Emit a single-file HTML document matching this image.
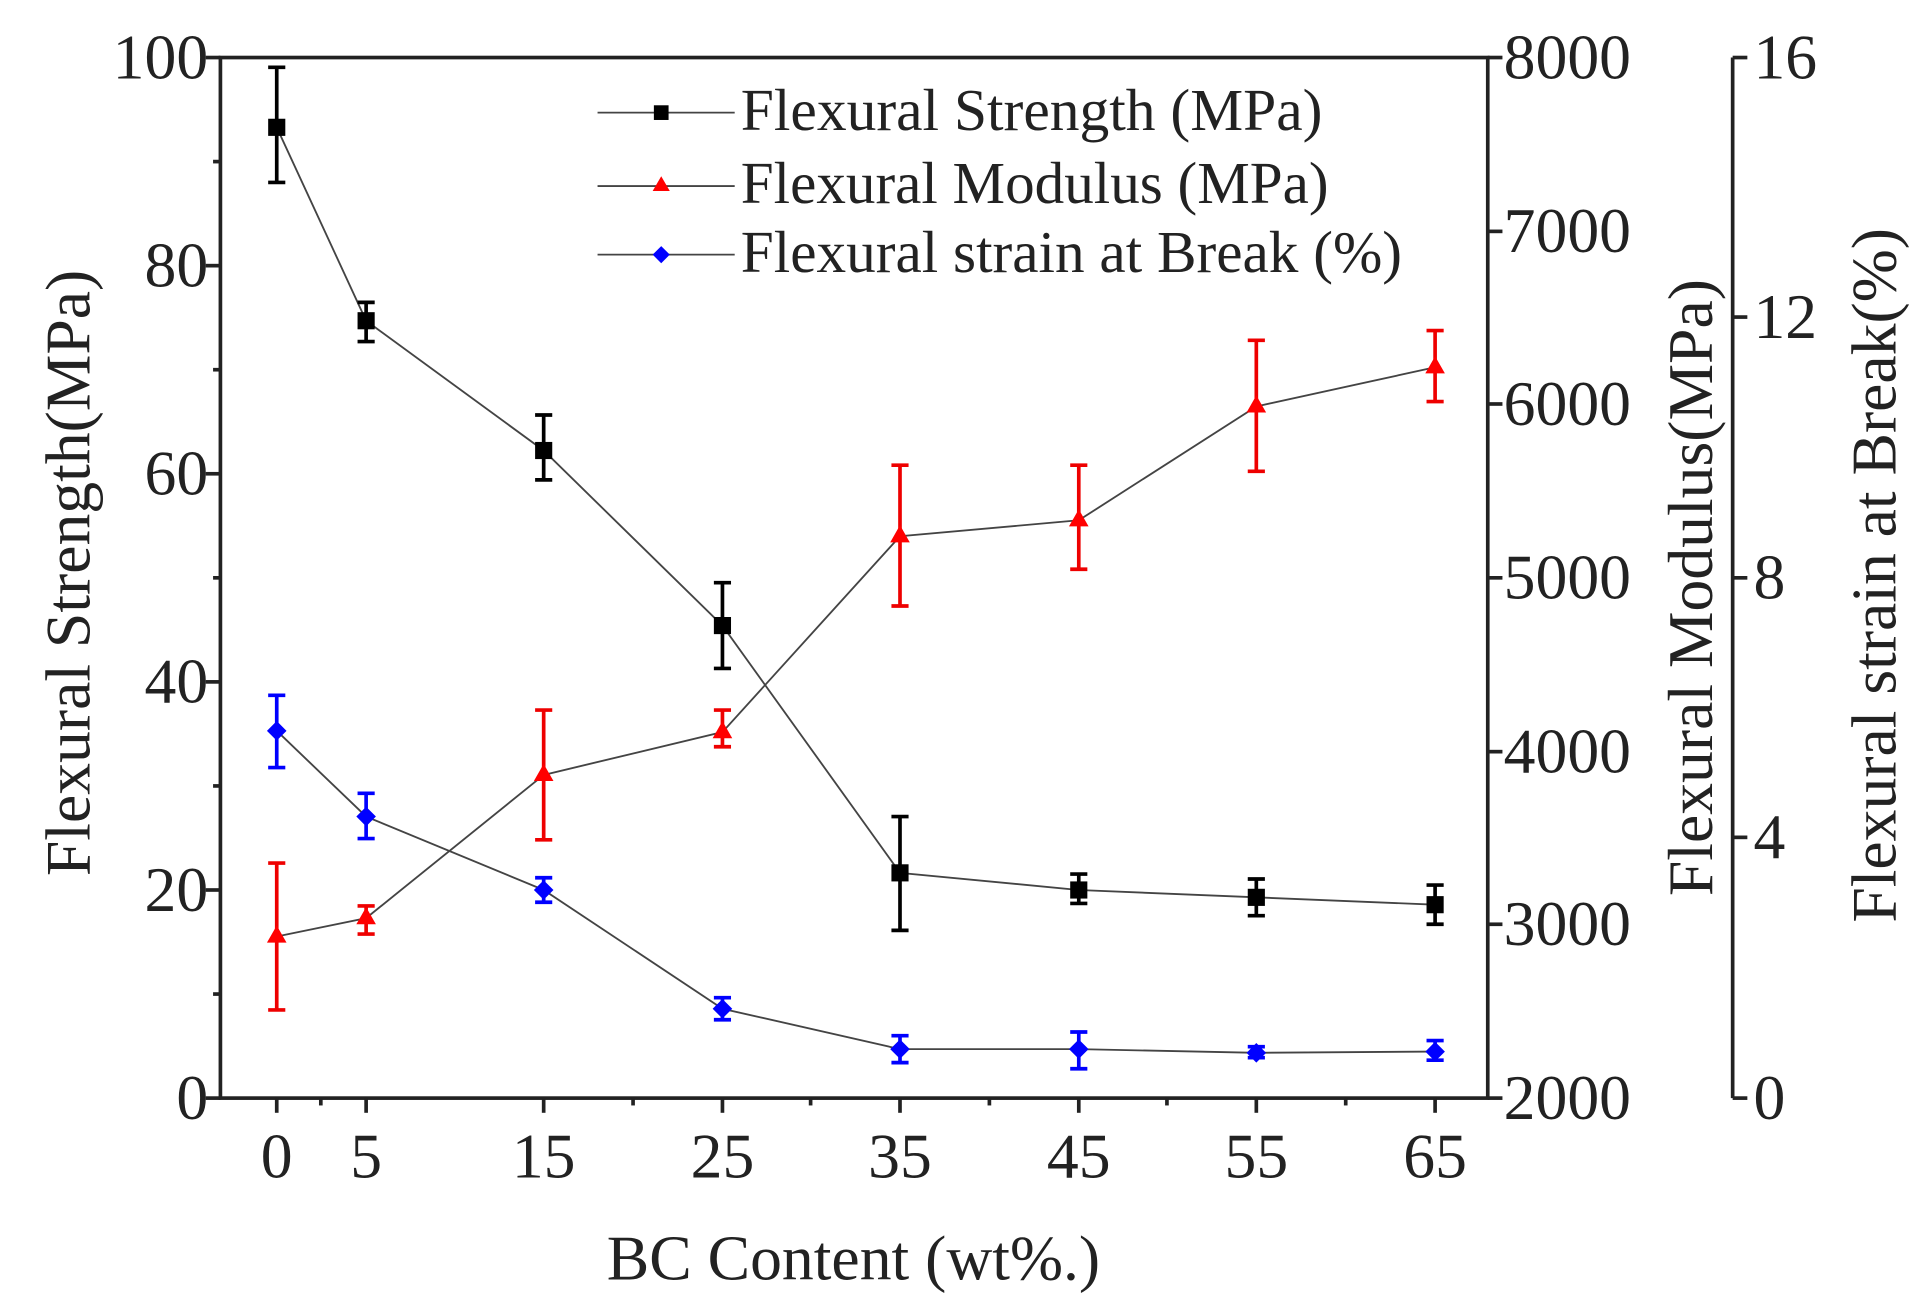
<!DOCTYPE html>
<html><head><meta charset="utf-8"><style>html,body{margin:0;padding:0;background:#fff;}svg{display:block}</style></head>
<body>
<svg width="1920" height="1305" viewBox="0 0 1568 1066" preserveAspectRatio="none" xmlns="http://www.w3.org/2000/svg" font-family="Liberation Serif, serif" font-size="52" fill="#222">
<g stroke="#222" stroke-width="3" fill="none">
<rect x="180" y="47" width="1035" height="850"/>
<line x1="1415" y1="47" x2="1415" y2="897"/>
</g>
<g stroke="#222" stroke-width="3">
<line x1="168" y1="897" x2="180" y2="897"/><line x1="168" y1="727" x2="180" y2="727"/><line x1="168" y1="557" x2="180" y2="557"/><line x1="168" y1="387" x2="180" y2="387"/><line x1="168" y1="217" x2="180" y2="217"/><line x1="168" y1="47" x2="180" y2="47"/>
<line x1="174" y1="812" x2="180" y2="812"/><line x1="174" y1="642" x2="180" y2="642"/><line x1="174" y1="472" x2="180" y2="472"/><line x1="174" y1="302" x2="180" y2="302"/><line x1="174" y1="132" x2="180" y2="132"/>
<line x1="1215" y1="47" x2="1227" y2="47"/><line x1="1215" y1="189" x2="1227" y2="189"/><line x1="1215" y1="330" x2="1227" y2="330"/><line x1="1215" y1="472" x2="1227" y2="472"/><line x1="1215" y1="614" x2="1227" y2="614"/><line x1="1215" y1="755" x2="1227" y2="755"/><line x1="1215" y1="897" x2="1227" y2="897"/>
<line x1="1415" y1="47" x2="1427" y2="47"/><line x1="1415" y1="259" x2="1427" y2="259"/><line x1="1415" y1="472" x2="1427" y2="472"/><line x1="1415" y1="684" x2="1427" y2="684"/><line x1="1415" y1="897" x2="1427" y2="897"/>
<line x1="226" y1="897" x2="226" y2="909"/><line x1="299" y1="897" x2="299" y2="909"/><line x1="444" y1="897" x2="444" y2="909"/><line x1="590" y1="897" x2="590" y2="909"/><line x1="735" y1="897" x2="735" y2="909"/><line x1="881" y1="897" x2="881" y2="909"/><line x1="1026" y1="897" x2="1026" y2="909"/><line x1="1172" y1="897" x2="1172" y2="909"/>
<line x1="262" y1="897" x2="262" y2="903"/><line x1="517" y1="897" x2="517" y2="903"/><line x1="662" y1="897" x2="662" y2="903"/><line x1="808" y1="897" x2="808" y2="903"/><line x1="953" y1="897" x2="953" y2="903"/><line x1="1099" y1="897" x2="1099" y2="903"/>
</g>
<g text-anchor="end">
<text x="170" y="914">0</text><text x="170" y="744">20</text><text x="170" y="574">40</text><text x="170" y="404">60</text><text x="170" y="234">80</text><text x="170" y="64">100</text>
</g>
<g>
<text x="1228" y="64">8000</text><text x="1228" y="206">7000</text><text x="1228" y="347">6000</text><text x="1228" y="489">5000</text><text x="1228" y="631">4000</text><text x="1228" y="772">3000</text><text x="1228" y="914">2000</text>
<text x="1432" y="64">16</text><text x="1432" y="276">12</text><text x="1432" y="489">8</text><text x="1432" y="701">4</text><text x="1432" y="914">0</text>
</g>
<g text-anchor="middle">
<text x="226" y="962">0</text><text x="299" y="962">5</text><text x="444" y="962">15</text><text x="590" y="962">25</text><text x="735" y="962">35</text><text x="881" y="962">45</text><text x="1026" y="962">55</text><text x="1172" y="962">65</text>
<text x="697" y="1045">BC Content (wt%.)</text>
<text transform="translate(73,468) rotate(-90)">Flexural Strength(MPa)</text>
<text transform="translate(1398,480) rotate(-90)">Flexural Modulus(MPa)</text>
<text transform="translate(1548,470) rotate(-90)">Flexural strain at Break(%)</text>
</g>
<g fill="none" stroke="#444" stroke-width="1.5">
<polyline points="226,104 299,262 444,368 590,511 735,713 881,727 1026,733 1172,739"/>
<polyline points="226,765 299,750 444,633 590,598 735,438 881,425 1026,332 1172,300"/>
<polyline points="226,597 299,667 444,727 590,824 735,857 881,857 1026,860 1172,859"/>
<line x1="488" y1="92" x2="600" y2="92"/><line x1="488" y1="152" x2="600" y2="152"/><line x1="488" y1="208" x2="600" y2="208"/>
</g>
<g stroke="#000" stroke-width="3">
<path d="M226 55V149M219 55h14M219 149h14 M299 247V279M292 247h14M292 279h14 M444 339V392M437 339h14M437 392h14 M590 476V546M583 476h14M583 546h14 M735 667V760M728 667h14M728 760h14 M881 714V738M874 714h14M874 738h14 M1026 718V748M1019 718h14M1019 748h14 M1172 723V755M1165 723h14M1165 755h14"/>
</g>
<g stroke="#e00" stroke-width="3">
<path d="M226 705V825M219 705h14M219 825h14 M299 740V763M292 740h14M292 763h14 M444 580V686M437 580h14M437 686h14 M590 580V610M583 580h14M583 610h14 M735 380V495M728 380h14M728 495h14 M881 380V465M874 380h14M874 465h14 M1026 278V385M1019 278h14M1019 385h14 M1172 270V328M1165 270h14M1165 328h14"/>
</g>
<g stroke="#00f" stroke-width="3">
<path d="M226 568V627M219 568h14M219 627h14 M299 648V685M292 648h14M292 685h14 M444 717V737M437 717h14M437 737h14 M590 815V833M583 815h14M583 833h14 M735 846V868M728 846h14M728 868h14 M881 843V873M874 843h14M874 873h14 M1026 855V864M1019 855h14M1019 864h14 M1172 850V866M1165 850h14M1165 866h14"/>
</g>
<g fill="#000">
<rect x="219" y="97" width="14" height="14"/><rect x="292" y="255" width="14" height="14"/><rect x="437" y="361" width="14" height="14"/><rect x="583" y="504" width="14" height="14"/><rect x="728" y="706" width="14" height="14"/><rect x="874" y="720" width="14" height="14"/><rect x="1019" y="726" width="14" height="14"/><rect x="1165" y="732" width="14" height="14"/>
<rect x="534" y="86" width="12" height="12"/>
</g>
<g fill="#f00">
<path d="M226 756l8 14h-16z M299 741l8 14h-16z M444 624l8 14h-16z M590 589l8 14h-16z M735 429l8 14h-16z M881 416l8 14h-16z M1026 323l8 14h-16z M1172 291l8 14h-16z M540 144l7 12h-14z"/>
</g>
<g fill="#00f">
<path d="M226 589l8 8-8 8-8-8z M299 659l8 8-8 8-8-8z M444 719l8 8-8 8-8-8z M590 816l8 8-8 8-8-8z M735 849l8 8-8 8-8-8z M881 849l8 8-8 8-8-8z M1026 852l8 8-8 8-8-8z M1172 851l8 8-8 8-8-8z M540 201l7 7-7 7-7-7z"/>
</g>
<g font-size="48">
<text x="605" y="106" textLength="475" lengthAdjust="spacingAndGlyphs">Flexural Strength (MPa)</text>
<text x="605" y="166" textLength="480" lengthAdjust="spacingAndGlyphs">Flexural Modulus (MPa)</text>
<text x="605" y="222" textLength="540" lengthAdjust="spacingAndGlyphs">Flexural strain at Break (%)</text>
</g>
</svg>
</body></html>
